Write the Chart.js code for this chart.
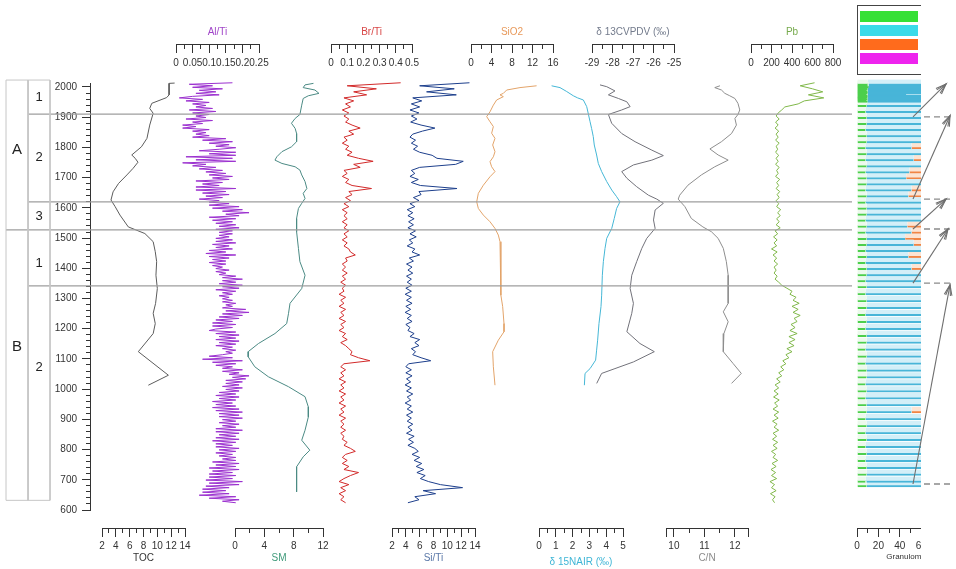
<!DOCTYPE html>
<html lang="en">
<head>
<meta charset="utf-8">
<title>Sediment core multi-proxy profile</title>
<script src="https://cdn.jsdelivr.net/npm/chart.js@4.4.1/dist/chart.umd.min.js"></script>
<style>
  html, body { margin: 0; padding: 0; background: #fff; }
  body { position: relative; width: 956px; height: 569px; overflow: hidden; }
  .strip { position: absolute; top: 0; height: 569px; }
  .clip { position: absolute; top: 0; height: 569px; overflow: hidden; }
  .inner { position: absolute; left: 0; top: 0; height: 569px; }
  .legend { position: absolute; top: 5px; width: 130px; height: 70px; border: 1px solid #444; box-sizing: border-box;
            font: 11px "Liberation Sans", Arial, sans-serif; color: #222; background: #fff; }
  .legend div { position: absolute; left: 2px; height: 11px; line-height: 11px; white-space: nowrap; }
  .legend span { display: inline-block; width: 58px; height: 11px; vertical-align: top; margin-right: 6px; }
</style>
</head>
<body>
<script>
// ---------------- shared age axis (every strip uses the same mapping) ----------------
const PAGE_W = 956, PAGE_H = 569;
const PX_TOP = 87;                 // row of AD 2000
const YEAR_TOP = 2000;
const PX_PER_YEAR = 423 / 1400;    // AD 2000 -> AD 600 spans 423 px
const yearAt = px => YEAR_TOP + (PX_TOP - px) / PX_PER_YEAR;
const pxAt = yr => PX_TOP + (YEAR_TOP - yr) * PX_PER_YEAR;

const FONT = '"Liberation Sans", Arial, sans-serif';
const INK = '#333';
Chart.defaults.font.family = FONT;

// axis rows (pixels) for the bracket scales
const TOP_AXIS = 45, TOP_TITLE = 32;
const BOTTOM_AXIS = 528, BOTTOM_TITLE = 558;
const TITLE_SHIFT = 14;   // title-only axis sits this far above the wanted text centre

// ---------------- data ----------------
const tocYears  = [2013,2012,2007,1974,1965,1946,1929,1913,1874,1830,1802,1775,1764,1751,1731,1709,1681,1653,1626,1604,1576,1537,1515,1488,1455,1422,1377,1333,1284,1251,1217,1184,1124,1046,1013];
const tocValues = [12.5,11.7,11.7,11.7,11.35,9.2,8.9,9.4,8.9,8.5,7.7,6.3,6.8,7.2,6.5,5.6,4.4,3.6,3.3,3.9,4.6,5.8,8.2,9.4,9.7,9.9,9.8,10.0,9.75,9.4,9.7,9.4,7.25,11.6,8.7];

const smYears  = [2012,2007,1998,1990,1979,1971,1962,1940,1909,1896,1880,1863,1846,1819,1802,1786,1769,1758,1747,1736,1725,1709,1687,1664,1648,1631,1615,1598,1565,1521,1466,1422,1377,1333,1284,1251,1217,1184,1151,1124,1107,1074,1041,1008,975,941,908,864,831,798,776,743,699,660];
const smValues = [10.7,9.55,9.3,10.9,11.45,10.0,9.3,9.1,8.85,8.2,7.7,8.2,8.4,8.4,7.7,6.4,5.7,5.45,6.4,8.2,8.85,9.1,9.55,9.8,9.3,9.55,9.1,8.65,8.4,8.4,8.65,8.85,9.55,9.1,7.5,7.3,7.05,5.45,3.2,1.8,1.8,2.7,4.55,7.3,9.55,10.0,10.0,9.55,9.1,10.2,9.3,8.4,8.4,8.4];

// Al/Ti is scanned at a finer step than the other XRF ratios
const alTiYears = [
  2014,2009,2004,1999,1994,1989,1984,1979,1974,1969,
  1964,1959,1954,1949,1944,1939,1934,1929,1924,1919,
  1914,1909,1904,1899,1894,1889,1884,1879,1874,1869,
  1864,1859,1854,1849,1844,1839,1834,1829,1824,1819,
  1814,1809,1804,1799,1794,1789,1784,1779,1774,1769,
  1764,1759,1754,1749,1744,1739,1734,1729,1724,1719,
  1714,1709,1704,1699,1694,1689,1684,1679,1674,1669,
  1664,1659,1654,1649,1644,1639,1634,1629,1624,1619,
  1614,1609,1604,1599,1594,1589,1584,1579,1574,1569,
  1564,1559,1554,1549,1544,1539,1534,1529,1524,1519,
  1514,1509,1504,1499,1494,1489,1484,1479,1474,1469,
  1464,1459,1454,1449,1444,1439,1434,1429,1424,1419,
  1414,1409,1404,1399,1394,1389,1384,1379,1374,1369,
  1364,1359,1354,1349,1344,1339,1334,1329,1324,1319,
  1314,1309,1304,1299,1294,1289,1284,1279,1274,1269,
  1264,1259,1254,1249,1244,1239,1234,1229,1224,1219,
  1214,1209,1204,1199,1194,1189,1184,1179,1174,1169,
  1164,1159,1154,1149,1144,1139,1134,1129,1124,1119,
  1114,1109,1104,1099,1094,1089,1084,1079,1074,1069,
  1064,1059,1054,1049,1044,1039,1034,1029,1024,1019,
  1014,1009,1004,999,994,989,984,979,974,969,
  964,959,954,949,944,939,934,929,924,919,
  914,909,904,899,894,889,884,879,874,869,
  864,859,854,849,844,839,834,829,824,819,
  814,809,804,799,794,789,784,779,774,769,
  764,759,754,749,744,739,734,729,724,719,
  714,709,704,699,694,689,684,679,674,669,
  664,659,654,649,644,639,634,629,624];
const alTiValues = [
  0.17,0.04,0.11,0.05,0.14,0.07,0.12,0.06,0.13,0.05,
  0.01,0.08,0.03,0.10,0.05,0.09,0.06,0.11,0.04,0.12,
  0.05,0.10,0.06,0.09,0.03,0.11,0.05,0.08,0.02,0.06,
  0.02,0.10,0.05,0.09,0.06,0.10,0.05,0.15,0.08,0.17,
  0.10,0.16,0.12,0.18,0.13,0.07,0.18,0.10,0.18,0.03,
  0.17,0.06,0.18,0.02,0.09,0.05,0.12,0.07,0.14,0.09,
  0.15,0.10,0.17,0.11,0.16,0.06,0.14,0.08,0.13,0.06,
  0.18,0.06,0.15,0.08,0.16,0.09,0.14,0.07,0.13,0.10,
  0.16,0.10,0.19,0.11,0.20,0.14,0.22,0.15,0.19,0.10,
  0.18,0.11,0.17,0.12,0.18,0.13,0.19,0.12,0.17,0.13,
  0.17,0.13,0.16,0.12,0.17,0.12,0.18,0.11,0.16,0.12,
  0.17,0.10,0.15,0.09,0.18,0.10,0.16,0.11,0.15,0.10,
  0.15,0.11,0.14,0.12,0.16,0.12,0.15,0.13,0.18,0.14,
  0.20,0.14,0.18,0.13,0.20,0.14,0.19,0.12,0.18,0.14,
  0.17,0.13,0.16,0.14,0.17,0.14,0.18,0.15,0.17,0.14,
  0.21,0.15,0.22,0.14,0.20,0.13,0.19,0.12,0.17,0.11,
  0.18,0.11,0.17,0.12,0.10,0.18,0.12,0.19,0.13,0.18,
  0.12,0.19,0.13,0.18,0.12,0.17,0.14,0.18,0.15,0.17,
  0.14,0.10,0.17,0.08,0.20,0.11,0.18,0.12,0.17,0.14,
  0.20,0.14,0.19,0.16,0.22,0.17,0.21,0.15,0.20,0.15,
  0.19,0.14,0.20,0.15,0.19,0.13,0.18,0.12,0.19,0.13,
  0.18,0.11,0.17,0.12,0.18,0.11,0.19,0.12,0.20,0.13,
  0.19,0.13,0.20,0.14,0.18,0.13,0.19,0.14,0.18,0.12,
  0.20,0.12,0.19,0.13,0.18,0.12,0.19,0.11,0.18,0.12,
  0.17,0.12,0.19,0.13,0.18,0.12,0.17,0.13,0.18,0.14,
  0.18,0.11,0.19,0.12,0.18,0.10,0.19,0.11,0.17,0.10,
  0.18,0.10,0.17,0.09,0.20,0.10,0.19,0.09,0.16,0.08,
  0.15,0.08,0.16,0.07,0.18,0.10,0.19,0.14,0.18];

// remaining XRF scanner series share one sampling grid (ages, AD)
const xrfYears = [
  2014,2004,1994,1984,1974,1964,1954,1944,1934,1924,
  1914,1904,1894,1884,1874,1864,1854,1844,1834,1824,
  1814,1804,1794,1784,1774,1764,1754,1744,1734,1724,
  1714,1704,1694,1684,1674,1664,1654,1644,1634,1624,
  1614,1604,1594,1584,1574,1564,1554,1544,1534,1524,
  1514,1504,1494,1484,1474,1464,1454,1444,1434,1424,
  1414,1404,1394,1384,1374,1364,1354,1344,1334,1324,
  1314,1304,1294,1284,1274,1264,1254,1244,1234,1224,
  1214,1204,1194,1184,1174,1164,1154,1144,1134,1124,
  1114,1104,1094,1084,1074,1064,1054,1044,1034,1024,
  1014,1004,994,984,974,964,954,944,934,924,
  914,904,894,884,874,864,854,844,834,824,
  814,804,794,784,774,764,754,744,734,724,
  714,704,694,684,674,664,654,644,634,624];

const brTiValues = [
  0.43,0.10,0.28,0.14,0.22,0.08,0.14,0.09,0.12,0.07,
  0.11,0.08,0.11,0.09,0.13,0.18,0.11,0.14,0.08,0.10,
  0.07,0.11,0.09,0.13,0.10,0.17,0.26,0.14,0.18,0.08,
  0.10,0.07,0.11,0.09,0.13,0.25,0.11,0.13,0.09,0.12,
  0.08,0.11,0.07,0.10,0.08,0.10,0.07,0.10,0.08,0.11,
  0.08,0.10,0.07,0.10,0.08,0.11,0.12,0.15,0.09,0.10,
  0.07,0.09,0.07,0.10,0.07,0.09,0.06,0.09,0.07,0.08,
  0.05,0.09,0.06,0.08,0.05,0.09,0.06,0.08,0.05,0.09,
  0.06,0.08,0.05,0.09,0.07,0.10,0.06,0.09,0.11,0.13,
  0.12,0.17,0.24,0.08,0.06,0.09,0.06,0.08,0.05,0.09,
  0.06,0.08,0.05,0.09,0.06,0.08,0.05,0.09,0.06,0.08,
  0.05,0.09,0.06,0.08,0.06,0.09,0.06,0.08,0.07,0.10,
  0.08,0.12,0.15,0.09,0.07,0.10,0.07,0.11,0.08,0.17,
  0.12,0.08,0.05,0.11,0.06,0.09,0.05,0.08,0.06,0.09];

const siTiValues = [
  13.2,6.0,11.0,7.0,11.3,5.0,6.3,4.8,6.0,4.6,
  5.9,4.8,5.6,4.7,6.2,8.2,6.4,5.0,4.6,5.4,
  4.8,5.7,5.1,6.0,7.8,8.5,12.3,11.2,6.0,4.8,
  5.3,4.6,5.8,4.8,6.1,11.4,5.9,6.2,5.1,5.9,
  4.6,5.3,4.2,5.0,4.3,5.2,4.4,5.1,4.3,5.4,
  4.6,5.5,4.5,5.0,4.2,5.3,4.9,6.0,4.5,5.1,
  4.1,4.9,4.3,5.0,4.1,4.8,4.2,4.9,4.0,4.8,
  3.9,4.8,4.1,4.9,4.0,4.7,3.9,4.8,4.2,4.9,
  4.0,4.6,4.3,5.2,4.6,6.0,5.3,5.9,4.8,5.4,
  5.0,6.2,7.6,4.4,4.0,4.8,4.0,4.9,4.1,4.7,
  3.9,4.8,4.1,5.0,4.2,4.7,3.9,4.8,4.2,5.0,
  4.1,4.8,4.2,5.0,4.3,4.9,4.1,5.2,4.4,5.1,
  4.3,5.3,5.8,4.9,6.0,5.2,6.3,5.5,6.6,5.6,
  6.8,6.1,7.3,9.0,12.2,6.5,8.3,5.3,5.9,4.3];

const pbValues = [
  620,480,600,700,560,710,520,460,330,300,
  265,245,275,240,265,235,270,245,265,240,
  275,245,260,240,270,245,265,240,275,250,
  265,240,280,250,270,245,280,255,275,245,
  270,250,290,260,285,250,275,245,285,235,
  260,220,255,225,250,200,255,215,250,225,
  260,225,245,225,255,235,270,300,350,400,
  380,440,410,470,400,460,410,480,420,450,
  390,430,380,450,370,430,370,420,350,400,
  340,370,310,340,290,320,270,300,250,285,
  235,270,225,265,220,275,230,260,215,270,
  225,265,210,255,225,270,215,250,210,260,
  215,255,200,240,215,260,205,245,195,240,
  200,250,185,230,200,245,190,235,210,230];

const sio2Years  = [2004,1998,1990,1979,1974,1968,1957,1940,1918,1902,1885,1869,1847,1830,1808,1786,1769,1753,1736,1720,1703,1675,1648,1620,1598,1576,1554,1532,1510,1488,1444,1377,1311,1273,1217,1190,1162,1124,1074,1013];
const sio2Values = [12.8,9.56,6.96,6.31,5.66,6.31,5.0,4.36,3.71,3.06,3.71,4.36,4.03,4.68,4.23,4.68,4.36,3.71,4.03,4.68,3.71,2.41,1.43,1.11,1.43,2.41,3.71,4.68,5.33,5.66,5.79,5.85,5.85,6.18,6.44,6.44,5.33,4.23,4.36,4.68];

const d15nYears  = [2004,1998,1985,1971,1964,1957,1935,1910,1885,1863,1836,1808,1775,1747,1720,1687,1659,1637,1620,1598,1565,1532,1499,1466,1422,1377,1311,1273,1217,1162,1129,1096,1068,1052,1013];
const d15nValues = [0.75,1.25,1.65,2.04,2.3,2.64,2.84,2.94,3.04,3.13,3.23,3.29,3.43,3.53,3.73,4.03,4.33,4.62,4.82,4.62,4.48,4.33,4.03,3.93,3.83,3.77,3.73,3.69,3.57,3.49,3.43,3.37,3.04,2.74,2.70];

const d13cYears  = [2007,2001,1987,1974,1962,1951,1935,1924,1909,1880,1846,1819,1791,1773,1758,1742,1720,1698,1670,1642,1629,1615,1593,1560,1532,1499,1466,1422,1377,1333,1284,1251,1190,1151,1124,1090,1068,1052,1019];
const d13cValues = [-28.61,-28.28,-27.88,-28.2,-27.71,-27.3,-27.14,-27.55,-28.2,-28.04,-27.55,-26.9,-26.08,-25.52,-26.08,-26.98,-27.55,-27.3,-26.82,-26.25,-25.84,-25.52,-25.92,-26.0,-25.92,-26.33,-26.57,-26.82,-27.06,-27.14,-26.98,-27.06,-27.3,-26.66,-25.96,-26.98,-27.88,-28.53,-28.77];

const cnYears  = [2004,1998,1990,1979,1971,1962,1946,1924,1909,1896,1874,1846,1819,1795,1775,1758,1736,1709,1675,1642,1629,1604,1565,1537,1521,1499,1466,1422,1377,1311,1284,1256,1223,1184,1124,1085,1052,1019];
const cnValues = [11.51,11.34,11.56,11.67,11.83,12.0,12.1,12.16,12.1,12.0,12.05,11.89,11.56,11.18,11.45,11.78,11.34,10.9,10.46,10.19,10.14,10.36,10.57,10.95,11.23,11.45,11.62,11.72,11.78,11.78,11.78,11.62,11.78,11.64,11.62,11.94,12.21,11.89];

// grain-size fractions (%), one stacked bar per sample
const granYears = [2015,2011,2007,2003,1999,1995,1991,1987,1983,1979,1975,1971,1967,1963,1959,
  1945,1925,1905,1885,1865,1845,1825,1805,1785,1765,1745,1725,1705,1685,1665,1645,1625,1605,1585,1565,1545,1525,1505,1485,1465,1445,1425,1405,1385,1365,1345,
  1322,1299,1276,1253,1230,1207,1184,1161,1138,1115,1092,1069,1046,1023,1000,977,954,931,908,885,862,839,816,793,770,747,724,701,686];
const granClay = [10,10,11,10,10,9,10,10,9,10,10,9,10,9,10,
  9,8,9,9,8,9,9,8,9,8,9,8,9,9,8,9,8,9,9,8,9,8,9,9,8,9,8,9,9,8,9,
  8,9,9,8,9,8,9,9,8,9,8,9,9,8,9,8,9,9,8,9,8,9,8,9,8,9,9,8,9];
const granSilt = [87,87,86,86,87,88,87,84,37,82,87,88,88,88,87,
  88,89,87,88,89,87,88,43,86,45,85,41,37,83,43,39,87,87,85,84,38,43,36,44,86,39,85,42,86,88,88,
  89,89,88,90,88,90,88,89,89,88,90,88,89,89,89,89,89,42,89,89,89,89,89,89,89,89,88,90,88];
const granSand = [3,3,3,4,3,3,3,6,53,8,3,3,2,3,3,
  3,3,4,3,3,4,3,48,5,46,6,50,53,8,48,51,5,4,6,8,52,48,54,46,6,51,7,48,5,4,3,
  3,2,3,2,3,2,3,2,3,3,2,3,2,3,2,3,2,48,3,2,3,2,3,2,3,2,3,2,3];
const granGravel = [0,0,0,0,0,0,0,0,1,0,0,0,0,0,0,
  0,0,0,0,0,0,0,1,0,1,0,1,1,0,1,1,0,0,0,0,1,1,1,1,0,1,0,1,0,0,0,
  0,0,0,0,0,0,0,0,0,0,0,0,0,0,0,0,0,1,0,0,0,0,0,0,0,0,0,0,0];
const granClasses = ['Clay', 'Silt', 'Sand', 'Gravel'];
const granEdge    = ['#4ccf4c', '#48b5d8', '#f08545', '#e040e0'];
const granFill    = ['#ecf9ec', '#d3eff8', '#fce4d3', '#f8dcf8'];
const keyColors   = ['#36e036', '#3adbe9', '#ff6b1c', '#ee24ee'];

// bracket-axis ticks and their labels ('' = minor tick)
const tocTicks = [2,3,4,5,6,7,8,9,10,11,12,13,14];
const tocTickLabels = ['2','','4','','6','','8','','10','','12','','14'];
const alTiTicks = [0,0.025,0.05,0.075,0.1,0.125,0.15,0.175,0.2,0.225,0.25];
const alTiTickLabels = ['0','','0.05','','0.1','','0.15','','0.2','','0.25'];
const smTicks = [0,2,4,6,8,10,12];
const smTickLabels = ['0','','4','','8','','12'];
const brTiTicks = [0,0.05,0.1,0.15,0.2,0.25,0.3,0.35,0.4,0.45,0.5];
const brTiTickLabels = ['0','','0.1','','0.2','','0.3','','0.4','','0.5'];
const siTiTicks = [2,3,4,5,6,7,8,9,10,11,12,13,14];
const siTiTickLabels = ['2','','4','','6','','8','','10','','12','','14'];
const sio2Ticks = [0,2,4,6,8,10,12,14,16];
const sio2TickLabels = ['0','','4','','8','','12','','16'];
const d15nTicks = [0,0.5,1,1.5,2,2.5,3,3.5,4,4.5,5];
const d15nTickLabels = ['0','','1','','2','','3','','4','','5'];
const d13cTicks = [-29,-28.5,-28,-27.5,-27,-26.5,-26,-25.5,-25];
const d13cTickLabels = ['-29','','-28','','-27','','-26','','-25'];
const cnTicks = [9.74,10,10.5,11,11.5,12,12.43];
const cnTickLabels = ['','10','','11','','12',''];
const pbTicks = [0,100,200,300,400,500,600,700,800];
const pbTickLabels = ['0','','200','','400','','600','','800'];
const granTicks = [0,10,20,30,40,50,60,70,80,90,100];
const granTickLabels = ['0','','20','','40','','60','','80','','100'];

// zonation
const zoneTop = 2023, zoneBase = 632;
const zoneBoundaryYears = [1910, 1620, 1527, 1342];
const zoneBoundaryStartX = [28, 28, 6, 28];
const zoneNames = ['A', 'B'];
const zoneLabelYears = [1791, 1139];
const subzoneNames = ['1', '2', '3', '1', '2'];
const subzoneLabelYears = [1964, 1768, 1570, 1417, 1073];

// correlation arrows beside the grain-size column
const arrowTailYears = [1901, 1629, 1530, 1351, 686];
const arrowHeadYears = [2010, 1905, 1629, 1530, 1345];
const arrowHeadX = [946, 950, 946, 948, 950];

// ---------------- helpers ----------------
const PAD = 14;

function bracketScales(s) {
  const isMajor = i => s.labels[i] !== '' || i === 0 || i === s.ticks.length - 1;
  return {
    x: {
      type: 'linear', axis: 'x', min: s.min, max: s.max,
      position: { y: yearAt(s.axisPx) },
      afterBuildTicks: sc => { sc.ticks = s.ticks.map(v => ({ value: v })); },
      ticks: { autoSkip: false, maxRotation: 0, minRotation: 0, padding: 4, color: INK,
               font: { size: 10 }, callback: (v, i) => s.labels[i] },
      grid: { drawOnChartArea: false, tickLength: 8, tickColor: INK, tickWidth: 1,
              tickBorderDash: c => (isMajor(c.index) ? [] : [4, 100]) },
      border: { color: INK, width: 1 },
      stacked: !!s.stacked
    },
    xt: {
      type: 'linear', axis: 'x', min: s.min, max: s.max,
      position: { y: yearAt(s.titlePx - TITLE_SHIFT) },
      ticks: { display: false }, grid: { display: false }, border: { display: false },
      title: { display: true, text: s.title, color: s.titleColor, font: { size: s.titleSize || 10 },
               padding: 0, align: s.titleAlign || 'center' }
    },
    y: { type: 'linear', display: false, offset: false, stacked: !!s.stacked,
         min: yearAt(PAGE_H), max: yearAt(0) }
  };
}

function mount(left, width, clipWidth) {
  let host = document.body;
  if (clipWidth) {
    const clip = document.createElement('div');
    clip.className = 'clip';
    clip.style.left = left + 'px';
    clip.style.width = clipWidth + 'px';
    document.body.appendChild(clip);
    host = clip;
  }
  const box = document.createElement('div');
  box.className = clipWidth ? 'inner' : 'strip';
  if (!clipWidth) box.style.left = left + 'px';
  box.style.width = width + 'px';
  const cv = document.createElement('canvas');
  box.appendChild(cv);
  host.appendChild(box);
  return { canvas: cv, host };
}

const baseOptions = () => ({
  responsive: true, maintainAspectRatio: false, animation: false, events: [],
  devicePixelRatio: 1,
  plugins: { legend: { display: false }, tooltip: { enabled: false } }
});

function profileStrip(s) {
  const { canvas } = mount(s.left - PAD, s.right - s.left + 2 * PAD);
  const opts = baseOptions();
  opts.layout = { padding: { left: PAD, right: PAD, top: 0, bottom: 0 } };
  opts.scales = bracketScales(s);
  return new Chart(canvas, {
    type: 'scatter',
    data: { datasets: [{
      label: s.title,
      data: s.years.map((yr, i) => ({ x: s.values[i], y: yr })),
      showLine: true, borderColor: s.color, borderWidth: s.width || 1,
      pointRadius: 0, tension: 0, clip: false
    }] },
    options: opts
  });
}

// ---------------- age axis ----------------
(function ageAxis() {
  const { canvas } = mount(0, 100);
  const opts = baseOptions();
  opts.layout = { padding: { left: 0, right: 0, top: pxAt(2013), bottom: PAGE_H - pxAt(600) } };
  opts.scales = {
    x: { display: false, min: 0, max: 1 },
    y: {
      position: 'left', min: 600, max: 2013,
      afterFit: sc => { sc.width = 90; },
      ticks: { stepSize: 20, includeBounds: false, autoSkip: false, padding: 5, color: INK,
               font: { size: 10 }, callback: v => (v % 100 === 0 ? String(v) : '') },
      grid: { drawOnChartArea: false, tickLength: 8, tickColor: INK,
              tickBorderDash: c => (c.tick && c.tick.value % 100 === 0 ? [] : [0, 4, 4, 100]) },
      border: { color: INK, width: 1 }
    }
  };
  new Chart(canvas, { type: 'scatter', data: { datasets: [{ data: [] }] }, options: opts });
})();

// ---------------- proxy strips ----------------
const strips = [
  { left: 102, right: 185, min: 2, max: 14, ticks: tocTicks, labels: tocTickLabels,
    axisPx: BOTTOM_AXIS, titlePx: BOTTOM_TITLE, title: 'TOC', titleColor: '#333',
    color: '#5c5c5c', years: tocYears, values: tocValues },
  { left: 176, right: 259, min: 0, max: 0.25, ticks: alTiTicks, labels: alTiTickLabels,
    axisPx: TOP_AXIS, titlePx: TOP_TITLE, title: 'Al/Ti', titleColor: '#a045c8',
    color: '#9b30cf', years: alTiYears, values: alTiValues },
  { left: 235, right: 323, min: 0, max: 12, ticks: smTicks, labels: smTickLabels,
    axisPx: BOTTOM_AXIS, titlePx: BOTTOM_TITLE, title: 'SM', titleColor: '#3f9a7a',
    color: '#4b8a84', years: smYears, values: smValues },
  { left: 331, right: 412, min: 0, max: 0.5, ticks: brTiTicks, labels: brTiTickLabels,
    axisPx: TOP_AXIS, titlePx: TOP_TITLE, title: 'Br/Ti', titleColor: '#d84545',
    color: '#d22a2a', years: xrfYears, values: brTiValues },
  { left: 392, right: 475, min: 2, max: 14, ticks: siTiTicks, labels: siTiTickLabels,
    axisPx: BOTTOM_AXIS, titlePx: BOTTOM_TITLE, title: 'Si/Ti', titleColor: '#5a78a8',
    color: '#1d3f8c', years: xrfYears, values: siTiValues },
  { left: 471, right: 553, min: 0, max: 16, ticks: sio2Ticks, labels: sio2TickLabels,
    axisPx: TOP_AXIS, titlePx: TOP_TITLE, title: 'SiO2', titleColor: '#e89a5c',
    color: '#e3a46a', years: sio2Years, values: sio2Values },
  { left: 539, right: 623, min: 0, max: 5, ticks: d15nTicks, labels: d15nTickLabels,
    axisPx: BOTTOM_AXIS, titlePx: BOTTOM_TITLE + 4, title: 'δ 15NAIR (‰)', titleColor: '#3fb6d6',
    color: '#45b7d6', years: d15nYears, values: d15nValues },
  { left: 592, right: 674, min: -29, max: -25, ticks: d13cTicks, labels: d13cTickLabels,
    axisPx: TOP_AXIS, titlePx: TOP_TITLE, title: 'δ 13CVPDV (‰)', titleColor: '#737b8c',
    color: '#72727a', years: d13cYears, values: d13cValues },
  { left: 666, right: 748, min: 9.74, max: 12.43, ticks: cnTicks, labels: cnTickLabels,
    axisPx: BOTTOM_AXIS, titlePx: BOTTOM_TITLE, title: 'C/N', titleColor: '#8c8c8c',
    color: '#8e8e8e', years: cnYears, values: cnValues },
  { left: 751, right: 833, min: 0, max: 800, ticks: pbTicks, labels: pbTickLabels,
    axisPx: TOP_AXIS, titlePx: TOP_TITLE, title: 'Pb', titleColor: '#76aa4c',
    color: '#80b84a', years: xrfYears, values: pbValues }
];
strips.forEach(profileStrip);

// ---------------- grain-size column (cropped at the page edge) ----------------
(function grainSize() {
  const CLIP_LEFT = 800, CLIP_W = 121, INNER_W = 220, AREA_LEFT = 857, AREA_W = 107;
  const { canvas, host } = mount(CLIP_LEFT, INNER_W, CLIP_W);
  const spec = { min: 0, max: 100, ticks: granTicks, labels: granTickLabels,
    axisPx: BOTTOM_AXIS, titlePx: BOTTOM_TITLE, title: 'Granulometry', titleColor: '#333',
    titleSize: 8, stacked: true };
  const opts = baseOptions();
  opts.indexAxis = 'y';
  opts.layout = { padding: { left: AREA_LEFT - CLIP_LEFT, right: INNER_W - (AREA_LEFT - CLIP_LEFT) - AREA_W, top: 0, bottom: 0 } };
  opts.scales = bracketScales(spec);
  const fractions = [granClay, granSilt, granSand, granGravel];
  new Chart(canvas, {
    type: 'bar',
    data: { datasets: granClasses.map((name, k) => ({
      label: name,
      // deepest sample first so each shallower bar is painted over the one below it
      data: granYears.map((yr, i) => ({ x: fractions[k][i], y: yr })).reverse(),
      backgroundColor: granFill[k], borderColor: granEdge[k],
      borderWidth: { top: 0, right: 0, bottom: 2, left: 0 }, borderSkipped: false,
      barThickness: 6
    })) },
    options: opts
  });

  // key box
  const key = document.createElement('div');
  key.className = 'legend';
  key.style.left = (857 - CLIP_LEFT) + 'px';
  granClasses.forEach((name, k) => {
    const row = document.createElement('div');
    row.style.top = (5 + k * 14) + 'px';
    const sw = document.createElement('span');
    sw.style.background = keyColors[k];
    row.appendChild(sw);
    row.appendChild(document.createTextNode(name));
    key.appendChild(row);
  });
  host.appendChild(key);
})();

// ---------------- overlay: zonation frame, boundaries, arrows ----------------
(function overlay() {
  const { canvas } = mount(0, PAGE_W);
  const line = (pts, color, width, extra) => Object.assign({
    data: pts, showLine: true, borderColor: color, borderWidth: width,
    pointRadius: 0, tension: 0, clip: false
  }, extra || {});

  const sets = [];
  [[6, 28], [28, 50]].forEach(([a, b]) => sets.push(line([
    { x: a, y: zoneTop }, { x: b, y: zoneTop }, { x: b, y: zoneBase },
    { x: a, y: zoneBase }, { x: a, y: zoneTop }], '#c6c6c6', 1)));
  zoneBoundaryYears.forEach((yr, i) => sets.push(line(
    [{ x: zoneBoundaryStartX[i], y: yr }, { x: 852, y: yr }], '#9e9e9e', 1.3)));
  arrowTailYears.forEach((yr, i) => {
    sets.push(line([{ x: 913, y: yr }, { x: arrowHeadX[i], y: arrowHeadYears[i] }], '#6e6e6e', 1.1, { arrow: true }));
    sets.push(line([{ x: 924, y: yr }, { x: 952, y: yr }], '#8a8a8a', 1.4, { borderDash: [6, 4] }));
  });

  const zoneText = {
    id: 'zoneText',
    afterDatasetsDraw(chart) {
      const { ctx, scales: { x, y } } = chart;
      ctx.save();
      ctx.fillStyle = '#222';
      ctx.textAlign = 'center';
      ctx.textBaseline = 'middle';
      ctx.font = '15px ' + FONT;
      zoneNames.forEach((t, i) => ctx.fillText(t, x.getPixelForValue(17), y.getPixelForValue(zoneLabelYears[i])));
      ctx.font = '13px ' + FONT;
      subzoneNames.forEach((t, i) => ctx.fillText(t, x.getPixelForValue(39), y.getPixelForValue(subzoneLabelYears[i])));
      ctx.restore();
    }
  };
  const arrowHeads = {
    id: 'arrowHeads',
    afterDatasetsDraw(chart) {
      const ctx = chart.ctx;
      chart.data.datasets.forEach((ds, i) => {
        if (!ds.arrow) return;
        const pts = chart.getDatasetMeta(i).data;
        const a = pts[0], b = pts[pts.length - 1];
        const ang = Math.atan2(b.y - a.y, b.x - a.x);
        ctx.save();
        ctx.strokeStyle = ds.borderColor;
        ctx.lineWidth = 1.1;
        [0.36, 0.22].forEach(spread => {
          ctx.beginPath();
          ctx.moveTo(b.x - 11 * Math.cos(ang - spread), b.y - 11 * Math.sin(ang - spread));
          ctx.lineTo(b.x, b.y);
          ctx.lineTo(b.x - 11 * Math.cos(ang + spread), b.y - 11 * Math.sin(ang + spread));
          ctx.stroke();
        });
        ctx.restore();
      });
    }
  };

  const opts = baseOptions();
  opts.layout = { padding: 0 };
  opts.scales = {
    x: { type: 'linear', display: false, min: 0, max: PAGE_W },
    y: { type: 'linear', display: false, min: yearAt(PAGE_H), max: yearAt(0) }
  };
  new Chart(canvas, { type: 'scatter', data: { datasets: sets }, options: opts, plugins: [zoneText, arrowHeads] });
})();
</script>
</body>
</html>
